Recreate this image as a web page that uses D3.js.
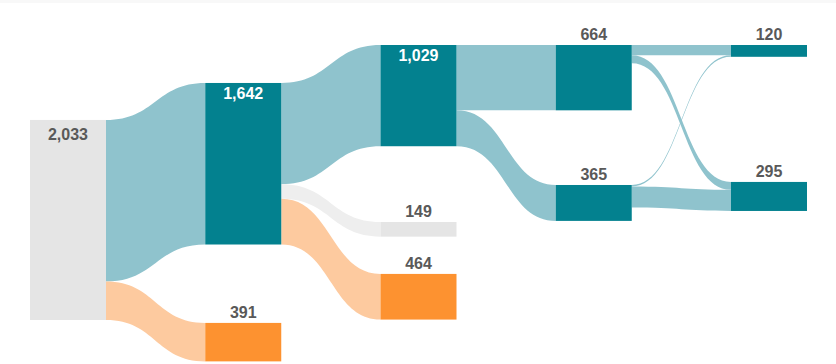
<!DOCTYPE html>
<html>
<head>
<meta charset="utf-8">
<script src="https://cdn.jsdelivr.net/npm/d3@7"></script>
<style>
  html, body { margin: 0; padding: 0; background: #fff; }
  svg { display: block; }
  text { font-family: "Liberation Sans", Arial, sans-serif; font-weight: bold; }
</style>
</head>
<body>
<div id="chart"><svg></svg></div>
<script>
const width = 836;
const height = 364;

// nodes
const nodeLabels = ['2,033', '1,642', '391', '1,029', '149', '464', '664', '365', '120', '295'];
const nodeValues = [2033, 1642, 391, 1029, 149, 464, 664, 365, 120, 295];
const nodeColumns = [0, 1, 1, 2, 2, 2, 3, 3, 4, 4];
const nodeKinds = ['total', 'teal', 'orange', 'teal', 'gray', 'orange', 'teal', 'teal', 'teal', 'teal'];

// links (index into nodes)
const linkSources = [0, 0, 1, 1, 1, 3, 3, 6, 6, 7, 7];
const linkTargets = [1, 2, 3, 4, 5, 6, 7, 8, 9, 8, 9];
const linkValues = [1642, 391, 1029, 149, 464, 664, 365, 105, 80, 15, 215];

// layout: where each node starts, counted in value units from the top row
const nodeOffsets = [762, 386, 2825, 0, 1799, 2327, 0, 1423, 0, 1392];

const nodeFill = { total: '#e5e5e5', teal: '#03818f', orange: '#fd9230', gray: '#e5e5e5' };
const linkFill = { teal: '#8fc3cd', orange: '#fdca9f', gray: '#eeeeee' };

const svg = d3.select('#chart > svg')
  .attr('width', width)
  .attr('height', height);

// faint strip along the top edge
svg.append('rect')
  .attr('width', width)
  .attr('height', 3)
  .attr('fill', '#f8f8f8');

const nodeWidth = 76;
const x = d3.scalePoint()
  .domain([0, 1, 2, 3, 4])
  .range([30, 731]);

const h = d3.scaleLinear()
  .domain([0, 2033])
  .range([0, 200]);

const top0 = 45;

const nodes = nodeValues.map((v, i) => ({
  label: nodeLabels[i],
  value: v,
  kind: nodeKinds[i],
  x0: x(nodeColumns[i]),
  x1: x(nodeColumns[i]) + nodeWidth,
  y0: top0 + h(nodeOffsets[i]),
  y1: top0 + h(nodeOffsets[i]) + h(v),
  outY: top0 + h(nodeOffsets[i]),
  inY: top0 + h(nodeOffsets[i])
}));

const links = linkValues.map((v, i) => {
  const s = nodes[linkSources[i]];
  const t = nodes[linkTargets[i]];
  const w = h(v);
  const l = { source: s, target: t, value: v, sy0: s.outY, ty0: t.inY, w };
  s.outY += w;
  t.inY += w;
  return l;
});

function linkPath(d) {
  const x0 = d.source.x1;
  const x1 = d.target.x0;
  const xm = (x0 + x1) / 2;
  const sy1 = d.sy0 + d.w;
  const ty1 = d.ty0 + d.w;
  return `M${x0},${d.sy0}C${xm},${d.sy0} ${xm},${d.ty0} ${x1},${d.ty0}` +
    `L${x1},${ty1}C${xm},${ty1} ${xm},${sy1} ${x0},${sy1}Z`;
}

svg.append('g')
  .selectAll('path')
  .data(links)
  .join('path')
  .attr('d', linkPath)
  .attr('fill', d => linkFill[d.target.kind]);

svg.append('g')
  .selectAll('rect')
  .data(nodes)
  .join('rect')
  .attr('x', d => d.x0)
  .attr('y', d => d.y0)
  .attr('width', nodeWidth)
  .attr('height', d => d.y1 - d.y0)
  .attr('fill', d => nodeFill[d.kind]);

// big nodes carry the label inside, others above
svg.append('g')
  .selectAll('text')
  .data(nodes)
  .join('text')
  .attr('x', d => (d.x0 + d.x1) / 2)
  .attr('y', d => d.value > 1000 ? d.y0 + (d.kind === 'total' ? 20 : 16) : d.y0 - 5)
  .attr('text-anchor', 'middle')
  .attr('font-size', 16)
  .attr('fill', d => d.value > 1000 && d.kind === 'teal' ? '#ffffff' : '#595959')
  .text(d => d.label);
</script>
</body>
</html>
